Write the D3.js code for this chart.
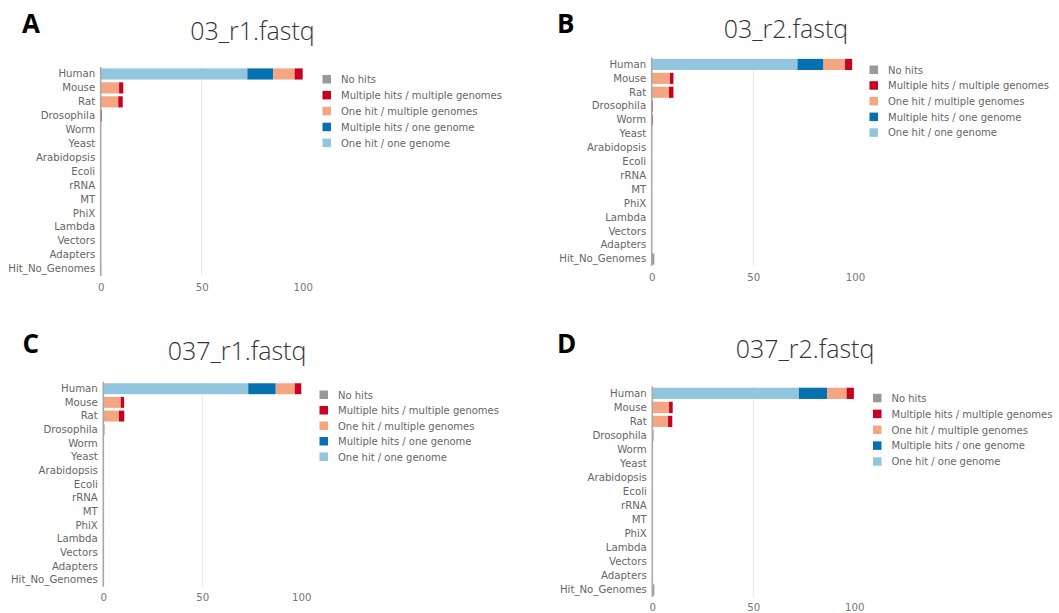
<!DOCTYPE html>
<html>
<head>
<meta charset="utf-8">
<script src="https://cdn.jsdelivr.net/npm/d3@7/dist/d3.min.js"></script>
<style>
  html, body { margin: 0; padding: 0; background: #ffffff; }
  svg { display: block; }
</style>
</head>
<body>
<svg id="chart" width="1059" height="613"></svg>
<script>
// ---------------- DATA ----------------
const categories = ["Human", "Mouse", "Rat", "Drosophila", "Worm", "Yeast", "Arabidopsis",
  "Ecoli", "rRNA", "MT", "PhiX", "Lambda", "Vectors", "Adapters", "Hit_No_Genomes"];

// stacked left-to-right order
const seriesNames = ["One hit / one genome", "Multiple hits / one genome",
  "One hit / multiple genomes", "Multiple hits / multiple genomes", "No hits"];
const seriesColors = ["#92c5de", "#0571b0", "#f4a582", "#ca0020", "#999999"];
const legendOrder = ["No hits", "Multiple hits / multiple genomes", "One hit / multiple genomes",
  "Multiple hits / one genome", "One hit / one genome"];

const panelLetters = ["A", "B", "C", "D"];
const panelTitles = ["03_r1.fastq", "03_r2.fastq", "037_r1.fastq", "037_r2.fastq"];
const xTickValues = [0, 50, 100];

// Values (%) per category, one array per series, per panel
// Panel A: 03_r1.fastq
const A_oneHitOneGenome      = [72.6, 0, 0, 0, 0, 0, 0, 0, 0, 0, 0, 0, 0, 0, 0];
const A_multiHitsOneGenome   = [12.8, 0, 0, 0, 0, 0, 0, 0, 0, 0, 0, 0, 0, 0, 0];
const A_oneHitMultiGenomes   = [10.6, 9.1, 8.7, 0.2, 0, 0, 0, 0, 0, 0, 0, 0, 0, 0, 0];
const A_multiHitsMultiGenomes= [4.0, 2.1, 2.2, 0.4, 0, 0, 0, 0, 0, 0, 0, 0, 0, 0, 0];
const A_noHits               = [0, 0, 0, 0, 0, 0, 0, 0, 0, 0, 0, 0, 0, 0, 0.2];
// Panel B: 03_r2.fastq
const B_oneHitOneGenome      = [71.7, 0, 0, 0, 0, 0, 0, 0, 0, 0, 0, 0, 0, 0, 0];
const B_multiHitsOneGenome   = [12.8, 0, 0, 0, 0, 0, 0, 0, 0, 0, 0, 0, 0, 0, 0];
const B_oneHitMultiGenomes   = [10.6, 9.0, 8.5, 0.1, 0.1, 0, 0, 0, 0, 0, 0, 0, 0, 0, 0];
const B_multiHitsMultiGenomes= [3.5, 1.7, 2.2, 0.4, 0.4, 0, 0, 0, 0, 0, 0, 0, 0, 0, 0];
const B_noHits               = [0, 0, 0, 0, 0, 0, 0, 0, 0, 0, 0, 0, 0, 0, 1.3];
// Panel C: 037_r1.fastq
const C_oneHitOneGenome      = [73.2, 0, 0, 0, 0, 0, 0, 0, 0, 0, 0, 0, 0, 0, 0];
const C_multiHitsOneGenome   = [13.9, 0, 0, 0, 0, 0, 0, 0, 0, 0, 0, 0, 0, 0, 0];
const C_oneHitMultiGenomes   = [9.6, 8.8, 7.9, 0.1, 0, 0, 0, 0, 0, 0, 0, 0, 0, 0, 0];
const C_multiHitsMultiGenomes= [3.3, 1.7, 2.7, 0.4, 0, 0, 0, 0, 0, 0, 0, 0, 0, 0, 0];
const C_noHits               = [0, 0, 0, 0, 0, 0, 0, 0, 0, 0, 0, 0, 0, 0, 0.2];
// Panel D: 037_r2.fastq
const D_oneHitOneGenome      = [72.6, 0, 0, 0, 0, 0, 0, 0, 0, 0, 0, 0, 0, 0, 0];
const D_multiHitsOneGenome   = [14.0, 0, 0, 0, 0, 0, 0, 0, 0, 0, 0, 0, 0, 0, 0];
const D_oneHitMultiGenomes   = [9.6, 8.3, 7.8, 0.1, 0, 0, 0, 0, 0, 0, 0, 0, 0, 0, 0];
const D_multiHitsMultiGenomes= [3.6, 1.8, 2.1, 0.4, 0, 0, 0, 0, 0, 0, 0, 0, 0, 0, 0];
const D_noHits               = [0, 0, 0, 0, 0, 0, 0, 0, 0, 0, 0, 0, 0, 0, 1.0];

const panelSeries = [
  [A_oneHitOneGenome, A_multiHitsOneGenome, A_oneHitMultiGenomes, A_multiHitsMultiGenomes, A_noHits],
  [B_oneHitOneGenome, B_multiHitsOneGenome, B_oneHitMultiGenomes, B_multiHitsMultiGenomes, B_noHits],
  [C_oneHitOneGenome, C_multiHitsOneGenome, C_oneHitMultiGenomes, C_multiHitsMultiGenomes, C_noHits],
  [D_oneHitOneGenome, D_multiHitsOneGenome, D_oneHitMultiGenomes, D_multiHitsMultiGenomes, D_noHits]
];

// ---------------- LAYOUT (positions / styles) ----------------
const layout = [
  { letter: [22, 33], title: [252.5, 40], x0: 100.7, x1: 302.7, top: 67.0, bottom: 276.0, tickY: 291,
    legend: { x: 322.5, y: 79.5, step: 15.9 } },
  { letter: [557, 33], title: [786, 38], x0: 651.7, x1: 855.0, top: 57.5, bottom: 266.0, tickY: 281,
    legend: { x: 869.5, y: 70.0, step: 15.7 } },
  { letter: [22.5, 353], title: [237, 360], x0: 103.3, x1: 301.3, top: 381.9, bottom: 586.8, tickY: 601,
    legend: { x: 319.5, y: 395.0, step: 15.5 } },
  { letter: [557, 353], title: [805, 358], x0: 652.3, x1: 854.3, top: 386.3, bottom: 597.0, tickY: 611,
    legend: { x: 873, y: 398.3, step: 15.85 } }
];

const svg = d3.select("#chart");
const color = d3.scaleOrdinal().domain(seriesNames).range(seriesColors);

panelSeries.forEach((series, pi) => {
  const L = layout[pi];
  const g = svg.append("g");

  // rows for stacking
  const rows = categories.map((c, ci) => {
    const r = { category: c };
    seriesNames.forEach((s, si) => { r[s] = series[si][ci]; });
    return r;
  });
  const stacked = d3.stack().keys(seriesNames)(rows);

  const x = d3.scaleLinear().domain([0, 100]).range([L.x0, L.x1]);
  const y = d3.scaleBand().domain(categories).range([L.top, L.bottom]).paddingInner(0.2).paddingOuter(0.1);

  // panel letter
  g.append("text")
    .attr("x", L.letter[0]).attr("y", L.letter[1])
    .attr("font-family", "'Open Sans', 'DejaVu Sans', sans-serif")
    .attr("font-weight", 700)
    .attr("font-size", 26)
    .attr("fill", "#000")
    .text(panelLetters[pi]);

  // title
  g.append("text")
    .attr("x", L.title[0]).attr("y", L.title[1])
    .attr("text-anchor", "middle")
    .attr("font-family", "'Open Sans', 'Noto Sans', sans-serif")
    .attr("font-weight", 300)
    .attr("font-size", 25)
    .attr("fill", "#333")
    .text(panelTitles[pi]);

  // gridlines
  g.append("g").selectAll("line").data(xTickValues.filter(v => v === 50))
    .join("line")
    .attr("x1", d => x(d)).attr("x2", d => x(d))
    .attr("y1", L.top).attr("y2", L.bottom)
    .attr("stroke", "#e6e6e6").attr("stroke-width", 1);

  // bars
  g.append("g").selectAll("g").data(stacked).join("g")
    .attr("fill", d => color(d.key))
    .selectAll("rect").data(d => d.filter(p => p[1] - p[0] > 0))
    .join("rect")
    .attr("x", p => x(p[0]))
    .attr("width", p => x(p[1]) - x(p[0]))
    .attr("y", p => y(p.data.category))
    .attr("height", y.bandwidth());

  // y axis (category labels) + axis line
  const yAxis = d3.axisLeft(y).tickSize(0).tickPadding(5);
  const ya = g.append("g").attr("transform", `translate(${L.x0 - 0.5},0)`).call(yAxis);
  ya.select(".domain").remove();
  ya.selectAll("text")
    .attr("font-family", "'DejaVu Sans', Verdana, sans-serif")
    .attr("font-size", 10.2)
    .attr("fill", "#666");
  g.append("line")
    .attr("x1", L.x0).attr("x2", L.x0)
    .attr("y1", L.top).attr("y2", L.bottom)
    .attr("stroke", "#a8a8a8").attr("stroke-width", 1.6);

  // x axis tick labels
  const xAxis = d3.axisBottom(x).tickValues(xTickValues).tickSize(0).tickPadding(0);
  const xa = g.append("g").attr("transform", `translate(0,${L.tickY - 10})`).call(xAxis);
  xa.select(".domain").remove();
  xa.selectAll("text")
    .attr("dy", 0).attr("y", 10)
    .attr("font-family", "'DejaVu Sans', Verdana, sans-serif")
    .attr("font-size", 10.2)
    .attr("fill", "#777");

  // legend
  const lg = g.append("g");
  legendOrder.forEach((name, i) => {
    const cy = L.legend.y + i * L.legend.step;
    lg.append("rect")
      .attr("x", L.legend.x).attr("y", cy - 4.5)
      .attr("width", 8.5).attr("height", 8.5)
      .attr("fill", color(name));
    lg.append("text")
      .attr("x", L.legend.x + 18.5).attr("y", cy + 3.5)
      .attr("font-family", "'DejaVu Sans', Verdana, sans-serif")
      .attr("font-size", 10)
      .attr("fill", "#666")
      .text(name);
  });
});
</script>
</body>
</html>
